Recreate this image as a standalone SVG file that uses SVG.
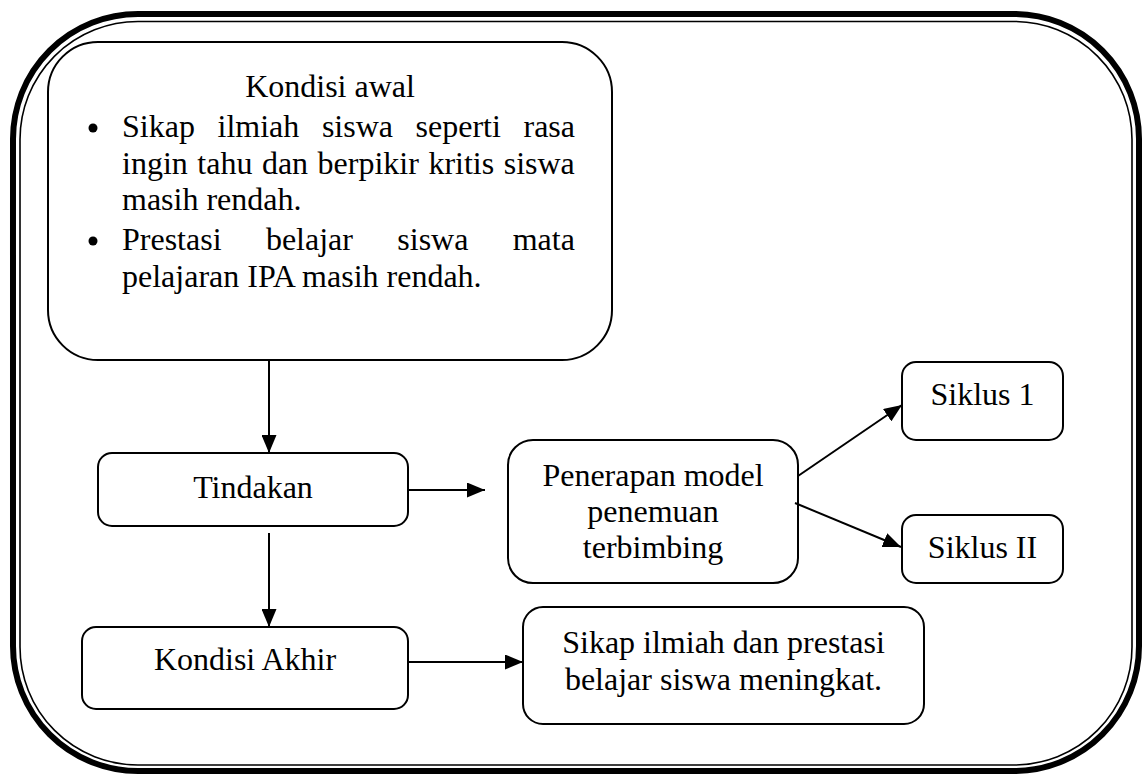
<svg xmlns="http://www.w3.org/2000/svg" width="1143" height="774" viewBox="0 0 1143 774">
<style>
.box{fill:#fff;stroke:#000;stroke-width:2}
.t{font-family:"Liberation Serif","Times New Roman",serif;font-size:32px;fill:#000}
.c{text-anchor:middle}
.ln{stroke:#000;stroke-width:2;fill:none}
</style>
<defs>
<marker id="ah" markerUnits="userSpaceOnUse" markerWidth="18" markerHeight="15" refX="18" refY="7.5" orient="auto">
<path d="M0,0 L18,7.5 L0,15 z" fill="#000"/>
</marker>
</defs>
<rect width="1143" height="774" fill="#fff"/>
<g id="frame">
<rect x="13" y="14" width="1126" height="757" rx="125" ry="125" fill="none" stroke="#000" stroke-width="6"/>
<rect x="20" y="21.5" width="1112" height="743.5" rx="118" ry="118" fill="none" stroke="#000" stroke-width="1.6"/>
</g>
<g id="kondisi-awal">
<rect class="box" x="48" y="42" width="564" height="318" rx="50" ry="50"/>
<text class="t c" x="330" y="97">Kondisi awal</text>
<circle cx="93" cy="128" r="4.5" fill="#000"/>
<text class="t" y="137"><tspan x="122">Sikap</tspan><tspan x="217.5">ilmiah</tspan><tspan x="321.9">siswa</tspan><tspan x="415.6">seperti</tspan><tspan x="523.5">rasa</tspan></text>
<text class="t" y="174"><tspan x="122">ingin</tspan><tspan x="197.3">tahu</tspan><tspan x="261.9">dan</tspan><tspan x="317.6">berpikir</tspan><tspan x="428.4">kritis</tspan><tspan x="503.7">siswa</tspan></text>
<text class="t" x="122" y="210">masih rendah.</text>
<circle cx="93" cy="241" r="4.5" fill="#000"/>
<text class="t" y="250"><tspan x="122">Prestasi</tspan><tspan x="265.9">belajar</tspan><tspan x="397.3">siswa</tspan><tspan x="512.7">mata</tspan></text>
<text class="t" x="122" y="287">pelajaran IPA masih rendah.</text>
</g>
<g id="tindakan">
<rect class="box" x="98" y="453" width="310" height="73" rx="14" ry="14"/>
<text class="t c" x="253" y="498">Tindakan</text>
</g>
<g id="kondisi-akhir">
<rect class="box" x="82" y="627" width="326" height="82" rx="14" ry="14"/>
<text class="t c" x="245" y="670">Kondisi Akhir</text>
</g>
<g id="penerapan">
<rect class="box" x="508" y="440" width="290" height="143" rx="25" ry="25"/>
<text class="t c" x="653" y="486">Penerapan model</text>
<text class="t c" x="653" y="522">penemuan</text>
<text class="t c" x="653" y="558">terbimbing</text>
</g>
<g id="siklus-1">
<rect class="box" x="902" y="362" width="161" height="78" rx="14" ry="14"/>
<text class="t c" x="982.5" y="405">Siklus 1</text>
</g>
<g id="siklus-2">
<rect class="box" x="902" y="515" width="161" height="68" rx="14" ry="14"/>
<text class="t c" x="982.5" y="558">Siklus II</text>
</g>
<g id="hasil">
<rect class="box" x="523" y="607" width="401" height="117" rx="20" ry="20"/>
<text class="t c" x="723.5" y="653">Sikap ilmiah dan prestasi</text>
<text class="t c" x="723.5" y="690">belajar siswa meningkat.</text>
</g>
<g id="connectors">
<line class="ln" x1="269" y1="361" x2="269" y2="453" marker-end="url(#ah)"/>
<line class="ln" x1="269" y1="533" x2="269" y2="627" marker-end="url(#ah)"/>
<line class="ln" x1="408" y1="490" x2="485" y2="490" marker-end="url(#ah)"/>
<line class="ln" x1="408" y1="662" x2="523" y2="662" marker-end="url(#ah)"/>
<line class="ln" x1="798" y1="476" x2="902" y2="405" marker-end="url(#ah)"/>
<line class="ln" x1="795" y1="503" x2="901" y2="547" marker-end="url(#ah)"/>
</g>
</svg>
